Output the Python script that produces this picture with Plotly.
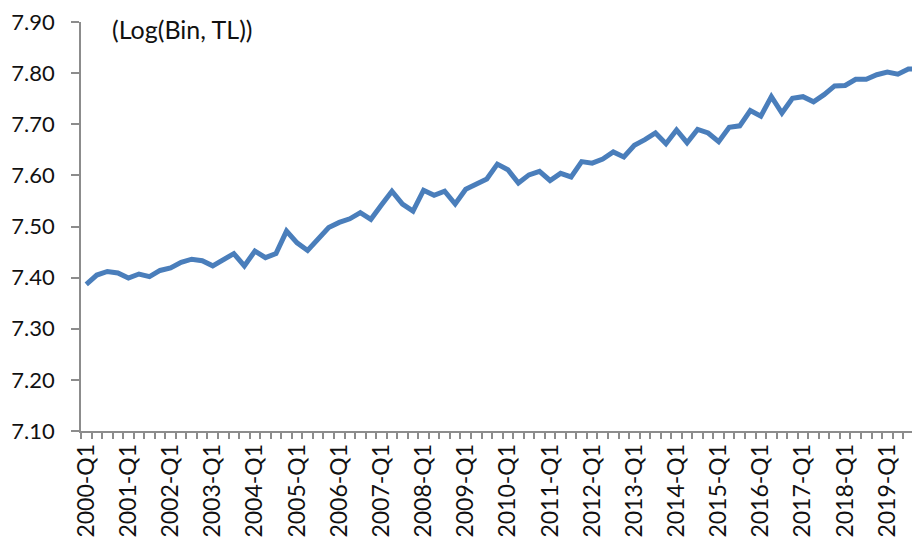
import plotly.graph_objects as go

years = list(range(2000, 2020))
quarters = [f"{y}-Q{q}" for y in years for q in range(1, 5)]

values = [
    7.387, 7.405, 7.412, 7.409,   # 2000
    7.399, 7.407, 7.402, 7.414,   # 2001
    7.419, 7.430, 7.436, 7.433,   # 2002
    7.423, 7.436, 7.447, 7.423,   # 2003
    7.452, 7.439, 7.447, 7.491,   # 2004
    7.468, 7.453, 7.476, 7.498,   # 2005
    7.508, 7.515, 7.527, 7.514,   # 2006
    7.542, 7.569, 7.544, 7.530,   # 2007
    7.571, 7.561, 7.569, 7.544,   # 2008
    7.573, 7.584, 7.593, 7.622,   # 2009
    7.611, 7.585, 7.601, 7.608,   # 2010
    7.590, 7.604, 7.597, 7.627,   # 2011
    7.624, 7.632, 7.646, 7.636,   # 2012
    7.659, 7.670, 7.683, 7.662,   # 2013
    7.689, 7.664, 7.690, 7.683,   # 2014
    7.666, 7.694, 7.697, 7.727,   # 2015
    7.716, 7.754, 7.722, 7.751,   # 2016
    7.754, 7.744, 7.758, 7.775,   # 2017
    7.776, 7.788, 7.788, 7.797,   # 2018
    7.802, 7.798, 7.808, 7.808,   # 2019
]

tick_text = [q if q.endswith("Q1") else "" for q in quarters]
y_ticks = [7.10, 7.20, 7.30, 7.40, 7.50, 7.60, 7.70, 7.80, 7.90]

FONT = "Lato"
AXIS_COLOR = "#8c8c8c"

# page body has an 8px default margin; figure sized to fit the window
W, H = 912, 541
L, T, B, R = 73, 14, 118, 0

fig = go.Figure()
fig.add_trace(go.Scatter(
    x=quarters, y=values, mode="lines",
    line=dict(color="#4a7ebb", width=5),
    showlegend=False, hoverinfo="skip", cliponaxis=False,
))

fig.update_layout(
    width=W, height=H,
    margin=dict(l=L, r=R, t=T, b=B, pad=0),
    paper_bgcolor="white", plot_bgcolor="white",
    font=dict(family=FONT, size=22, color="#111111"),
    xaxis=dict(
        type="category",
        range=[-0.5, 79.1],
        automargin=False,
        tickmode="array", tickvals=quarters, ticktext=tick_text,
        tickson="boundaries",
        ticks="outside", ticklen=6, tickwidth=1.5, tickcolor=AXIS_COLOR,
        tickangle=-90,
        showline=True, linecolor=AXIS_COLOR, linewidth=1.5,
        showgrid=False, zeroline=False,
        ticklabelstandoff=2,
        tickfont=dict(family=FONT, size=23, color="#111111"),
    ),
    yaxis=dict(
        range=[7.0999, 7.9001],
        automargin=False,
        tickmode="array", tickvals=y_ticks,
        tickformat=".2f",
        ticks="outside", ticklen=8, tickwidth=1.5, tickcolor=AXIS_COLOR,
        showline=True, linecolor=AXIS_COLOR, linewidth=1.5,
        showgrid=False, zeroline=False,
        ticklabelstandoff=12,
        ticklabeloverflow="allow",
        tickfont=dict(family=FONT, size=22, color="#111111"),
    ),
    annotations=[dict(
        text="(Log(Bin, TL))", xref="paper", yref="paper",
        x=(102 - L) / (W - L - R), y=(H - B - 21) / (H - T - B),
        xanchor="left", yanchor="middle", showarrow=False,
        font=dict(family=FONT, size=25, color="#111111"),
    )],
)

fig.write_html("out.html")
